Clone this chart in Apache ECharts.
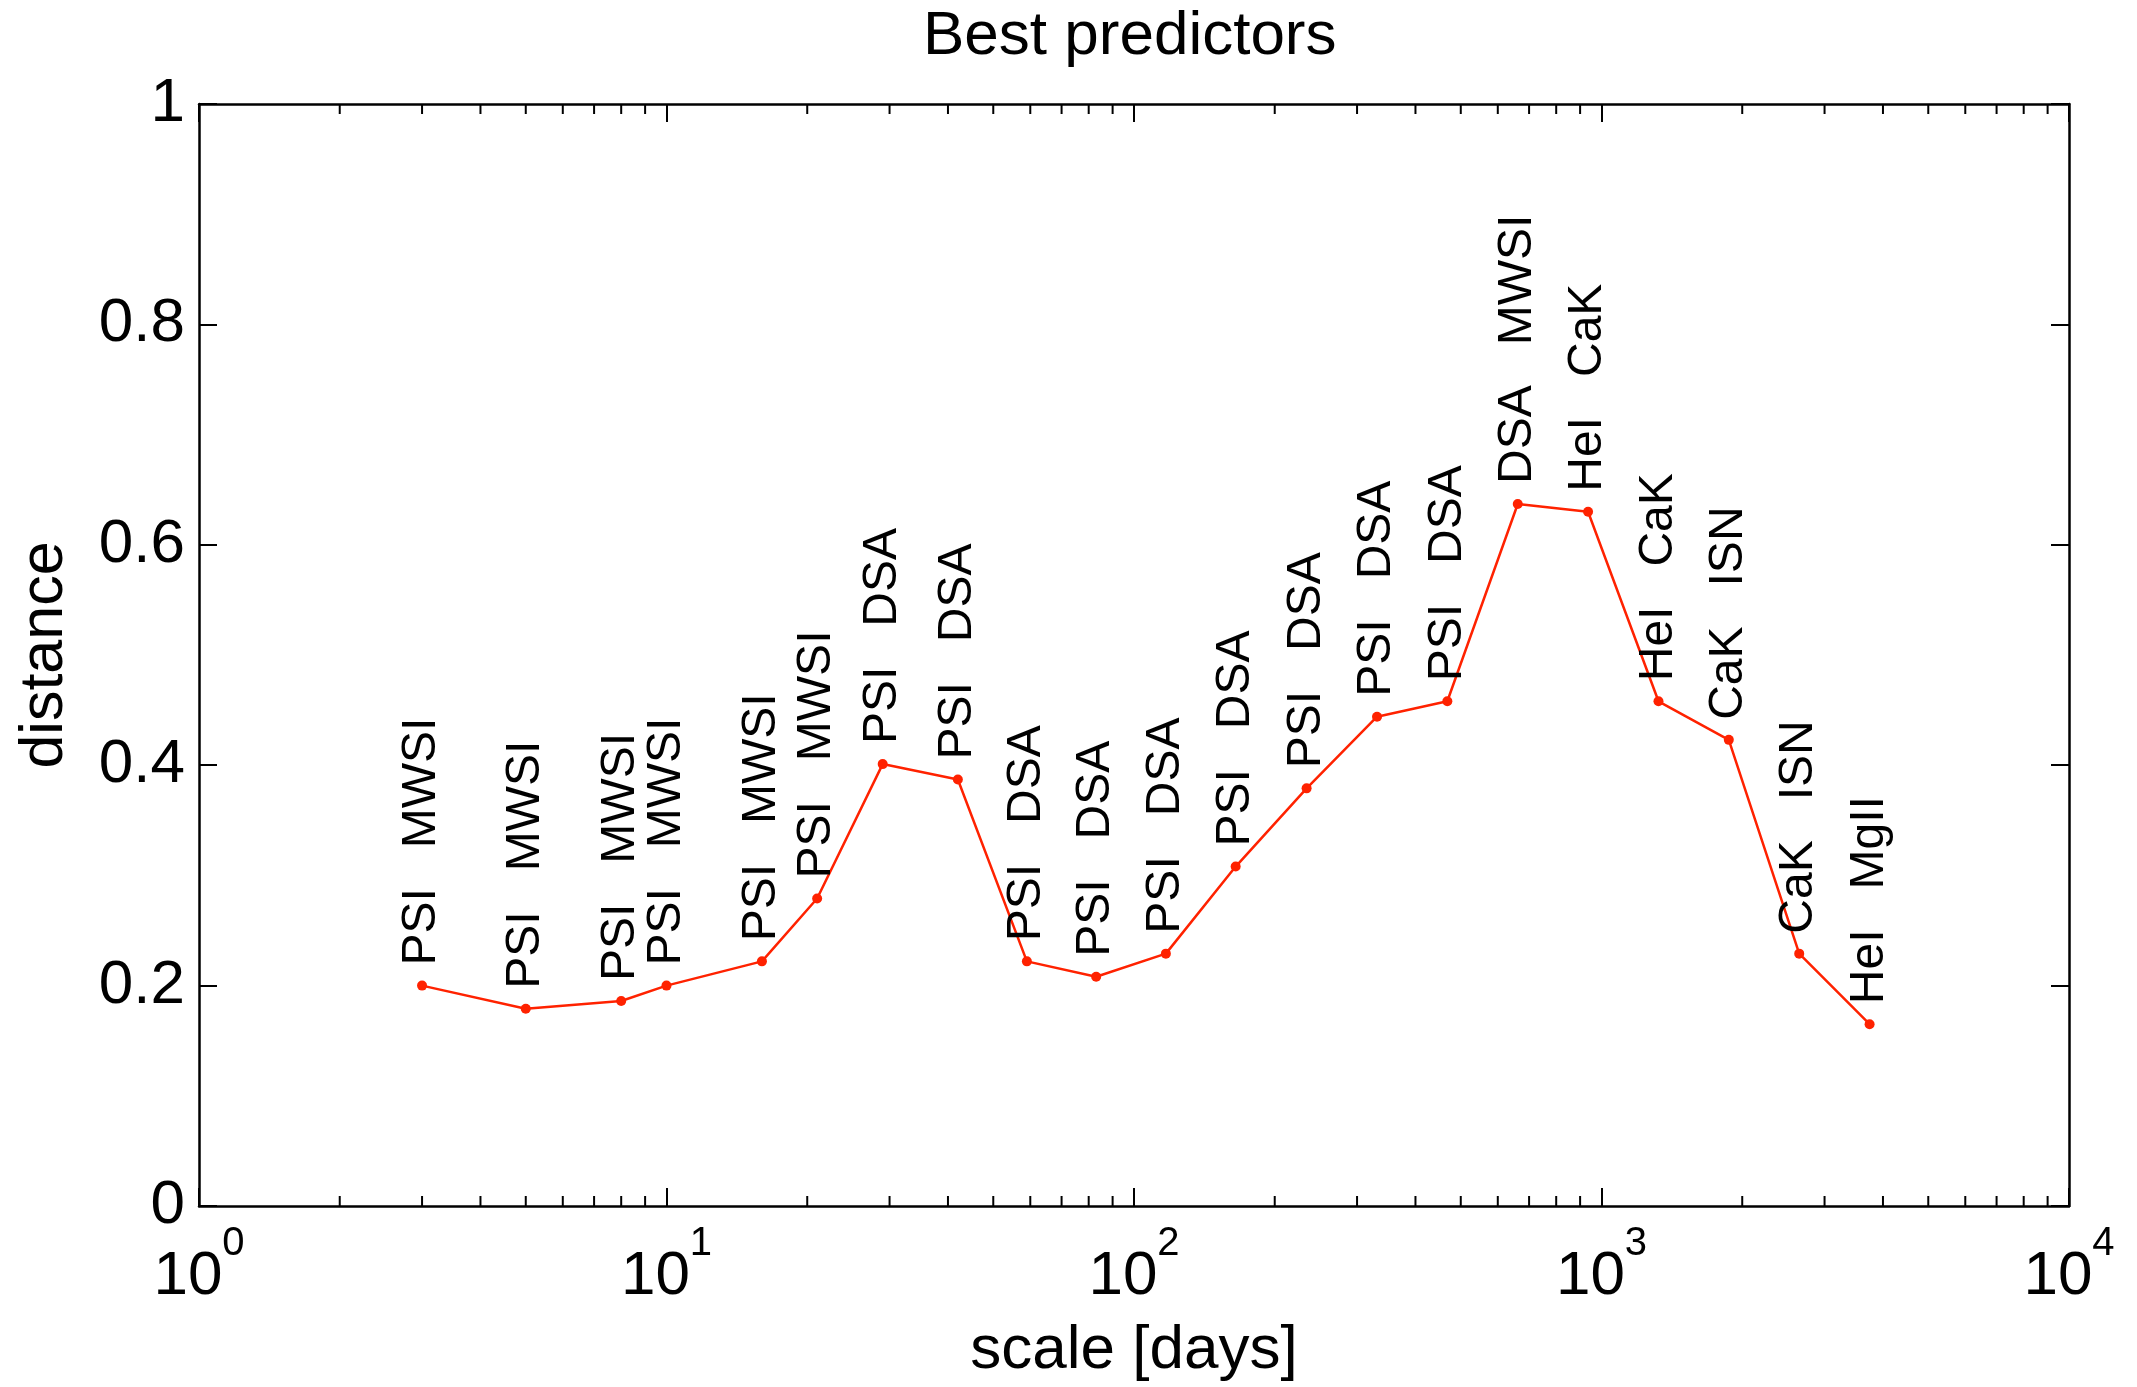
<!DOCTYPE html>
<html><head><meta charset="utf-8">
<script src="https://cdn.jsdelivr.net/npm/echarts@6/dist/echarts.min.js"></script>
<style>html,body{margin:0;padding:0;background:#fff}#c{width:2137px;height:1387px}</style>
</head><body><div id="c"></div>
<script>
// ---- data ----
const scales = [3, 5, 8, 10, 16, 21, 29, 42, 59, 83, 117, 165, 234, 331, 468, 662, 936, 1324, 1872, 2648, 3745];
const distances = [0.200, 0.179, 0.186, 0.200, 0.222, 0.279, 0.401, 0.387, 0.222, 0.208, 0.229, 0.308, 0.379, 0.444, 0.458, 0.637, 0.630, 0.458, 0.423, 0.229, 0.165];
const predictors = [
  'PSI   MWSI', 'PSI   MWSI', 'PSI   MWSI', 'PSI   MWSI', 'PSI   MWSI', 'PSI   MWSI',
  'PSI   DSA', 'PSI   DSA', 'PSI   DSA', 'PSI   DSA', 'PSI   DSA', 'PSI   DSA',
  'PSI   DSA', 'PSI   DSA', 'PSI   DSA', 'DSA   MWSI', 'HeI   CaK', 'HeI   CaK',
  'CaK   ISN', 'CaK   ISN', 'HeI   MgII'
];
const xTickExponents = [0, 1, 2, 3, 4];
const yTicks = [0, 0.2, 0.4, 0.6, 0.8, 1];
const minorTickMultipliers = [2, 3, 4, 5, 6, 7, 8, 9];
const minorTickDecades = [1, 10, 100, 1000];

const FONT = '"Liberation Sans", Arial, Helvetica, sans-serif';
const RED = '#ff2200';

const minorTicks = [];
minorTickDecades.forEach(d => minorTickMultipliers.forEach(m => minorTicks.push([m * d, 0])));

const chart = echarts.init(document.getElementById('c'), null, {renderer: 'canvas'});

const xLabelRich = {
  b: {fontSize: 62, fontFamily: FONT, color: '#000', lineHeight: 106},
  s: {fontSize: 40, fontFamily: FONT, color: '#000', lineHeight: 40, verticalAlign: 'top'}
};
function xLabelFormatter(v) {
  const e = Math.round(Math.log10(v));
  if (xTickExponents.indexOf(e) < 0) return '';
  return '{b|10}{s|' + e + '}';
}

const axisLineStyle = {show: true, onZero: false, lineStyle: {color: '#000', width: 2.5}};
const majorTick = {show: true, inside: true, length: 18, lineStyle: {color: '#000', width: 2}};

const option = {
  animation: false,
  backgroundColor: '#fff',
  title: {
    text: 'Best predictors', left: 923, top: 6, padding: 0,
    textStyle: {fontSize: 62, fontWeight: 'normal', fontFamily: FONT, color: '#000'}
  },
  grid: {left: 199, right: 68, top: 104, bottom: 179, containLabel: false},
  xAxis: [
    {
      type: 'log', logBase: 10, min: 1, max: 10000, splitNumber: 4, position: 'bottom',
      axisLine: axisLineStyle, axisTick: majorTick, splitLine: {show: false}, minorTick: {show: false},
      axisLabel: {formatter: xLabelFormatter, rich: xLabelRich, margin: 18, color: '#000'},
      name: 'scale [days]', nameLocation: 'middle', nameGap: 114,
      nameTextStyle: {fontSize: 62, fontFamily: FONT, color: '#000'}
    },
    {
      type: 'log', logBase: 10, min: 1, max: 10000, splitNumber: 4, position: 'top',
      axisLine: axisLineStyle, axisTick: majorTick, splitLine: {show: false}, minorTick: {show: false},
      axisLabel: {show: false}
    }
  ],
  yAxis: [
    {
      type: 'value', min: yTicks[0], max: yTicks[yTicks.length - 1], interval: 0.2, position: 'left',
      axisLine: axisLineStyle, axisTick: majorTick, splitLine: {show: false},
      axisLabel: {fontSize: 62, fontFamily: FONT, color: '#000', margin: 14,
        formatter: v => String(Math.round(v * 10) / 10)},
      name: 'distance', nameLocation: 'middle', nameGap: 123, nameRotate: 90,
      nameTextStyle: {fontSize: 61, fontFamily: FONT, color: '#000'}
    },
    {
      type: 'value', min: yTicks[0], max: yTicks[yTicks.length - 1], interval: 0.2, position: 'right',
      axisLine: axisLineStyle, axisTick: majorTick, splitLine: {show: false},
      axisLabel: {show: false}
    }
  ],
  series: [
    {
      type: 'custom', xAxisIndex: 0, yAxisIndex: 0, silent: true, clip: false,
      data: minorTicks,
      renderItem: function (params, api) {
        const v = api.value(0);
        const b = api.coord([v, 0]);
        const t = api.coord([v, 1]);
        return {
          type: 'group', children: [
            {type: 'line', shape: {x1: b[0], y1: b[1], x2: b[0], y2: b[1] - 10}, style: {stroke: '#000', lineWidth: 2}},
            {type: 'line', shape: {x1: t[0], y1: t[1], x2: t[0], y2: t[1] + 10}, style: {stroke: '#000', lineWidth: 2}}
          ]
        };
      }
    },
    {
      type: 'line', xAxisIndex: 0, yAxisIndex: 0,
      data: scales.map((s, i) => [s, distances[i]]),
      symbol: 'circle', symbolSize: 10,
      lineStyle: {color: RED, width: 2.5},
      itemStyle: {color: RED},
      label: {
        show: true, position: 'top', distance: 15, rotate: 90,
        align: 'left', verticalAlign: 'middle',
        fontSize: 48, fontFamily: FONT, color: '#000',
        formatter: p => predictors[p.dataIndex]
      },
      labelLayout: {hideOverlap: false}
    }
  ]
};
chart.setOption(option);
</script>
</body></html>
